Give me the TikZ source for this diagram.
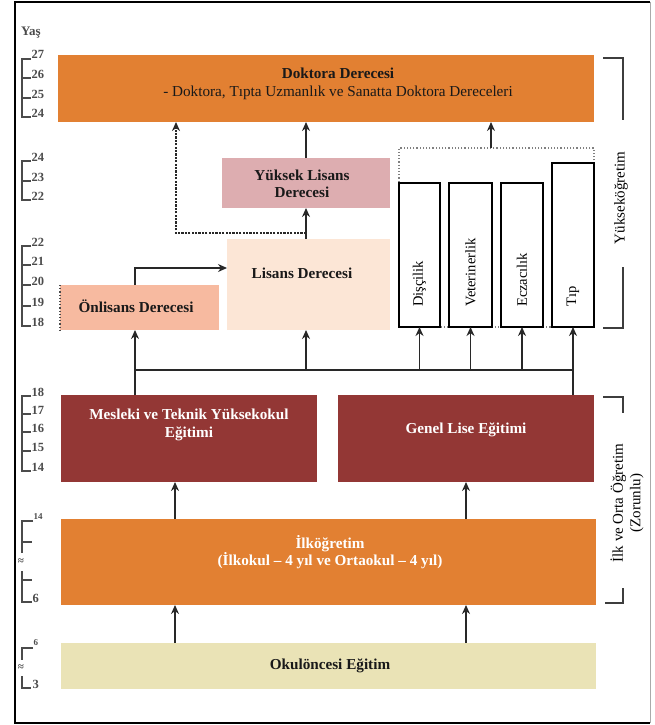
\documentclass[tikz,border=0pt]{standalone}
\usepackage{fontspec}
\setmainfont{Liberation Serif}
\usetikzlibrary{arrows.meta}
\definecolor{cDok}{RGB}{226,128,50}
\definecolor{cYL}{RGB}{221,173,176}
\definecolor{cLis}{RGB}{252,230,214}
\definecolor{cOn}{RGB}{247,186,160}
\definecolor{cRed}{RGB}{147,55,53}
\definecolor{cOk}{RGB}{234,227,182}
\definecolor{cLine}{RGB}{40,40,40}
\definecolor{cAge}{RGB}{75,75,75}
\definecolor{cFrameR}{RGB}{170,170,170}
\begin{document}
\begin{tikzpicture}[x=1pt,y=-1pt,
  box/.style={draw=none,inner sep=0pt,anchor=north west,outer sep=0pt},
  vbox/.style={draw=black,line width=1.4pt,fill=white,inner sep=0pt,anchor=north west,outer sep=0pt},
  btxt/.style={font=\fontsize{15.2}{17.5}\selectfont\bfseries,align=center,inner sep=0pt,text=black!90},
  rtxt/.style={font=\fontsize{15}{17.5}\selectfont,align=center,inner sep=0pt},
  vtxt/.style={font=\fontsize{14.5}{16}\selectfont,rotate=90,anchor=west,inner sep=0pt},
  arr/.style={draw=cLine,line width=1.4pt,-{Stealth[length=9pt,width=8pt]}},
  ln/.style={draw=cLine,line width=1.4pt},
  darr/.style={draw=cLine,line width=1.6pt,dash pattern=on 2.2pt off 1.2pt,-{Stealth[length=9pt,width=8pt]}},
  brk/.style={draw=cLine!90,line width=1.5pt},
  agel/.style={font=\fontsize{12.5}{13}\selectfont\bfseries,text=cAge,anchor=base west,inner sep=0.5pt},
  ages/.style={draw=cAge,line width=1.1pt},
]
\useasboundingbox (0,0) rectangle (655,725);
% frame
\draw[black,line width=1.2pt] (650,2) -- (15,2) -- (15,723) -- (650,723);
\draw[black,line width=2.4pt] (15,2) -- (15,723);
\draw[cFrameR,line width=1pt] (650,2) -- (650,723);

% boxes
\node[box,fill=cDok,minimum width=536pt,minimum height=67pt] (dok) at (58,55) {};
\node[btxt] (dokT) at (338,84) {Doktora Derecesi\\\mdseries - Doktora, Tıpta Uzmanlık ve Sanatta Doktora Dereceleri};
\node[box,fill=cYL,minimum width=168pt,minimum height=50pt] (yl) at (222,158) {};
\node[btxt] (ylT) at (302,184) {Yüksek Lisans\\Derecesi};
\node[box,fill=cLis,minimum width=163pt,minimum height=91pt] (lis) at (227,239) {};
\node[btxt] (lisT) at (302,273) {Lisans Derecesi};
\node[box,fill=cOn,minimum width=159pt,minimum height=45pt] (onl) at (60,285) {};
\node[btxt] (onlT) at (136,306) {Önlisans Derecesi};
\draw[cAge,line width=1.2pt,dotted] (onl.north west) -- (onl.south west);

\node[box,draw=gray,line width=1.2pt,dotted,minimum width=195pt,minimum height=179pt] (grp) at (399,148) {};
\node[vbox,minimum width=41pt,minimum height=144pt] (dis) at (399,183) {};
\node[vbox,minimum width=43pt,minimum height=144pt] (vet) at (449,183) {};
\node[vbox,minimum width=42pt,minimum height=144pt] (ecz) at (501,183) {};
\node[vbox,minimum width=42pt,minimum height=164pt] (tip) at (552,163) {};
\node[vtxt] (disT) at (419.5,307) {Dişçilik};
\node[vtxt] (vetT) at (470.5,307) {Veterinerlik};
\node[vtxt] (eczT) at (522,307) {Eczacılık};
\node[vtxt] (tipT) at (573,307) {Tıp};

\node[box,fill=cRed,minimum width=256pt,minimum height=87pt] (mes) at (61,395) {};
\node[btxt,text=white] (mesT) at (189,425) {Mesleki ve Teknik Yüksekokul\\Eğitimi};
\node[box,fill=cRed,minimum width=256pt,minimum height=87pt] (gen) at (338,395) {};
\node[btxt,text=white] (genT) at (466,430) {Genel Lise Eğitimi};
\node[box,fill=cDok,minimum width=535pt,minimum height=86pt] (ilk) at (61,519) {};
\node[btxt,text=white] (ilkT) at (330,552) {İlköğretim\\(İlkokul – 4 yıl ve Ortaokul – 4 yıl)};
\node[box,fill=cOk,minimum width=535pt,minimum height=46pt] (oku) at (61,643) {};
\node[btxt] (okuT) at (330,666) {Okulöncesi Eğitim};

% helper coordinates
\coordinate (jn) at (306,233);
\coordinate (dx) at (176,0);
\coordinate (yA) at (0,268);
\coordinate (bus) at (0,370);
\coordinate (cL) at (135,0);
\coordinate (cG) at (491,0);
\coordinate (cA) at (175,0);
\coordinate (cB) at (466,0);

% connectors
\draw[arr] (yl.north) -- (yl.north |- dok.south);
\draw[arr] (yl.south |- lis.north) -- (yl.south);
\draw[darr] (jn) -| (dx |- dok.south);
\draw[arr] (cL |- onl.north) |- (lis.west |- yA);
\draw[arr] (cG |- grp.north) -- (cG |- dok.south);

\draw[ln] (cL |- bus) -- (tip.south |- bus);
\draw[arr] (cL |- mes.north) -- (cL |- onl.south);
\draw[arr] (tip.south |- gen.north) -- (tip.south);
\draw[arr] (yl.south |- bus) -- (yl.south |- lis.south);
\draw[arr] (dis.south |- bus) -- (dis.south);
\draw[arr] (vet.south |- bus) -- (vet.south);
\draw[arr] (ecz.south |- bus) -- (ecz.south);

\draw[arr] (cA |- ilk.north) -- (cA |- mes.south);
\draw[arr] (cB |- ilk.north) -- (cB |- gen.south);
\draw[arr] (cA |- oku.north) -- (cA |- ilk.south);
\draw[arr] (cB |- oku.north) -- (cB |- ilk.south);

% right brackets
\draw[brk] (603,58) -- (623,58) -- (623,120);
\draw[brk] (623,267) -- (623,328) -- (603,328);
\node[rtxt,rotate=90] (yukT) at (621,198) {Yükseköğretim};
\draw[brk] (603,397) -- (623,397) -- (623,413);
\draw[brk] (623,588) -- (623,603) -- (605,603);
\node[rtxt,rotate=90] (zorT) at (627,503) {İlk ve Orta Öğretim\\(Zorunlu)};

% age scales
\node[font=\fontsize{13}{13}\selectfont\bfseries,text=cAge,anchor=west,inner sep=0pt] (yas) at (21,33) {Yaş};
% scale 1
\draw[ages] (31,59) -- (22,59) -- (22,117) -- (31,117);
\draw[ages] (22,78) -- (31,78) (22,98) -- (31,98);
\foreach \yy/\tt [count=\i] in {59/27,78/26,98/25,117/24} \node[agel] (s1-\i) at (31,\yy) {\tt};
% scale 2
\draw[ages] (31,161) -- (22,161) -- (22,200) -- (31,200);
\draw[ages] (22,181) -- (31,181);
\foreach \yy/\tt [count=\i] in {161/24,181/23,200/22} \node[agel] (s2-\i) at (31,\yy) {\tt};
% scale 3
\draw[ages] (31,246) -- (22,246) -- (22,326) -- (31,326);
\draw[ages] (22,265) -- (31,265) (22,285) -- (31,285) (22,306) -- (31,306);
\foreach \yy/\tt [count=\i] in {246/22,265/21,285/20,306/19,326/18} \node[agel] (s3-\i) at (31,\yy) {\tt};
% scale 4
\draw[ages] (31,396) -- (22,396) -- (22,471) -- (31,471);
\draw[ages] (22,414) -- (31,414) (22,432) -- (31,432) (22,451) -- (31,451);
\foreach \yy/\tt [count=\i] in {396/18,414/17,432/16,451/15,471/14} \node[agel] (s4-\i) at (31,\yy) {\tt};
% scale 5
\draw[ages] (33,521) -- (22,521) -- (22,553);
\draw[ages] (22,571) -- (22,602) -- (32,602);
\draw[ages] (22,542) -- (32,542) (22,580) -- (32,580);
\node[agel,font=\fontsize{9}{9}\selectfont\bfseries] (s5-1) at (33,519) {14};
\node[agel] (s5-2) at (32,602) {6};
\node[font=\fontsize{11}{11}\selectfont\bfseries,text=cAge,inner sep=0pt] (s5-w) at (21,562) {≈};
% scale 6
\draw[ages] (33,648) -- (22,648) -- (22,660);
\draw[ages] (22,676) -- (22,688) -- (31,688);
\node[agel,font=\fontsize{9}{9}\selectfont\bfseries] (s6-1) at (33,645) {6};
\node[agel] (s6-2) at (32,688) {3};
\node[font=\fontsize{11}{11}\selectfont\bfseries,text=cAge,inner sep=0pt] (s6-w) at (21,668) {≈};
\end{tikzpicture}
\end{document}
